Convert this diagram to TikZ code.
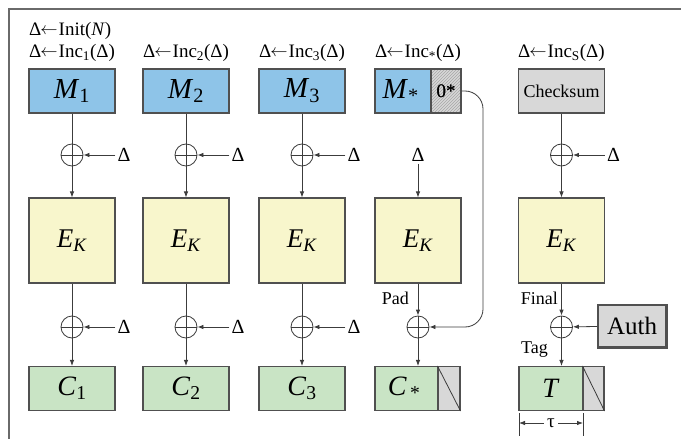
\documentclass[tikz,border=0pt]{standalone}
\usepackage{fontspec}
\setmainfont{LiberationSerif}[Extension=.ttf, UprightFont=*-Regular, ItalicFont=*-Italic, BoldFont=*-Bold, BoldItalicFont=*-BoldItalic]
\usetikzlibrary{arrows.meta,patterns}
\definecolor{mblue}{HTML}{8EC4E8}
\definecolor{eyel}{HTML}{F8F6CC}
\definecolor{cgrn}{HTML}{C9E4C5}
\definecolor{bgray}{HTML}{D8D8D8}
\definecolor{bord}{HTML}{505050}
\definecolor{lin}{HTML}{3C3C3C}
\definecolor{framec}{HTML}{6A6A6A}
\newcommand\myvar[2]{\textit{#1}\textsubscript{#2}}
\newcommand\larr{\kern-0.05em\raisebox{0.05em}{$\leftarrow$}\kern0.05em}
\tikzset{
  box/.style={draw=bord, line width=1.1pt, minimum width=86pt, minimum height=44pt, inner sep=0pt, anchor=center},
  mbox/.style={box, fill=mblue, font=\fontsize{29}{30}\selectfont},
  ebox/.style={box, fill=eyel, minimum height=85pt, font=\fontsize{27}{28}\selectfont},
  cbox/.style={box, fill=cgrn, font=\fontsize{28}{30}\selectfont},
  gbox/.style={box, fill=bgray},
  xor/.style={circle, draw=lin, line width=0.8pt, minimum size=22pt, inner sep=0pt,
    path picture={\draw[lin, line width=0.8pt] (path picture bounding box.north) -- (path picture bounding box.south)
      (path picture bounding box.west) -- (path picture bounding box.east);}},
  conn/.style={draw=lin, line width=0.8pt},
  arr/.style={conn, -{Latex[length=6pt,width=4.5pt]}},
  lab/.style={font=\fontsize{19}{20}\selectfont, inner sep=0pt},
  slab/.style={font=\fontsize{18}{20}\selectfont, inner sep=0pt},
  dlab/.style={font=\fontsize{20}{20}\selectfont, inner sep=2pt},
}
\begin{document}
\begin{tikzpicture}[x=1pt, y=-1pt]
\useasboundingbox (0,0) rectangle (681,439);
\fill[white] (0,0) rectangle (681,439);
\draw[framec, line width=1.5pt] (681,9) -- (9,9) -- (9,439);

% top labels
\node[lab, anchor=west] (init) at (29,31) {Δ\larr Init(\textit{N})};
\node[lab, anchor=west] (inc1) at (29,53) {Δ\larr Inc\textsubscript{1}(Δ)};
\node[lab, anchor=west] (inc2) at (143,53) {Δ\larr Inc\textsubscript{2}(Δ)};
\node[lab, anchor=west] (inc3) at (259,53) {Δ\larr Inc\textsubscript{3}(Δ)};
\node[lab, anchor=west] (incs) at (375,53) {Δ\larr Inc\textsubscript{*}(Δ)};
\node[lab, anchor=west] (incS) at (518,53) {Δ\larr Inc\textsubscript{S}(Δ)};

% columns 1-3
\foreach \i/\x in {1/72,2/186,3/302}{
  \node[mbox] (M\i) at (\x,91) {\myvar{M}{\i}};
  \node[xor] (xa\i) at (\x,155) {};
  \node[dlab] (da\i) at (\x+52,155) {Δ};
  \node[ebox] (E\i) at (\x,240.5) {\myvar{E}{\textit{K}}};
  \node[xor] (xb\i) at (\x,327) {};
  \node[dlab] (db\i) at (\x+52,327) {Δ};
  \node[cbox] (C\i) at (\x,388.5) {\myvar{C}{\i}};
  \draw[conn] (M\i) -- (xa\i);
  \draw[arr] (da\i) -- (xa\i);
  \draw[arr] (xa\i) -- (E\i);
  \draw[conn] (E\i) -- (xb\i);
  \draw[arr] (db\i) -- (xb\i);
  \draw[arr] (xb\i) -- (C\i);
}

% column 4
\node[mbox, minimum width=56pt] (M4) at (403,91) {\hfill\myvar{M}{*}\,};
\node[gbox, minimum width=30pt, font=\fontsize{19}{20}\selectfont,
  postaction={pattern=north east lines, pattern color=gray!70}] (Z4) at (446,91) {0*};
\node[gbox, minimum width=30pt, fill=none, font=\fontsize{19}{20}\selectfont] at (446,91) {0*};
\node[dlab] (da4) at (418,155) {Δ};
\node[ebox] (E4) at (418,240.5) {\myvar{E}{\textit{K}}};
\node[xor] (xb4) at (418,327) {};
\node[slab, anchor=east] (pad) at (409,298) {Pad};
\node[cbox, minimum width=63pt] (C4) at (406.5,388.5) {\hfill\textit{C}\textsubscript{\,*}\,};
\node[gbox, minimum width=22pt] (G4) at (449,388.5) {};
\draw[conn] (G4.north west) -- (G4.south east);
\coordinate (cr4) at (483,327);
\draw[arr] (da4) -- (E4);
\draw[arr] (E4) -- (xb4);
\draw[arr] (xb4) -- (xb4 |- C4.north);
\draw[arr, rounded corners=18pt] (Z4.east) -| (cr4) -- (xb4);

% column 5
\node[gbox, font=\fontsize{18}{20}\selectfont] (CS) at (561.5,91) {Checksum};
\node[xor] (xa5) at (561.5,155) {};
\node[dlab] (da5) at (613.5,155) {Δ};
\node[ebox] (E5) at (561.5,240.5) {\myvar{E}{\textit{K}}};
\node[xor] (xb5) at (561.5,327) {};
\node[slab, anchor=east] (fin) at (558,298) {Final};
\node[slab, anchor=east] (tag) at (548,350) {Tag};
\node[gbox, minimum width=68pt, minimum height=42pt, font=\fontsize{25}{26}\selectfont] (auth) at (632,326) {Auth};
\draw[bord, line width=2pt] (auth.north east) -- (auth.south east) -- (auth.south west);
\node[cbox, minimum width=64pt] (T5) at (551,388.5) {\textit{T}};
\node[gbox, minimum width=21pt] (G5) at (593.5,388.5) {};
\draw[conn] (G5.north west) -- (G5.south east);
\draw[conn] (CS) -- (xa5);
\draw[arr] (da5) -- (xa5);
\draw[arr] (xa5) -- (E5);
\draw[arr] (E5) -- (xb5);
\draw[arr] (auth) -- (xb5);
\draw[arr] (xb5) -- (xb5 |- T5.north);

% tau dimension
\coordinate (t1a) at (519,413); \coordinate (t1b) at (519,436);
\coordinate (t2a) at (583,413); \coordinate (t2b) at (583,436);
\draw[conn] (t1a) -- (t1b);
\draw[conn] (t2a) -- (t2b);
\node[lab, inner sep=3pt] (tau) at (551,423) {τ};
\coordinate (tl) at (519,423); \coordinate (tr) at (583,423);
\draw[arr] (tau) -- (tl);
\draw[arr] (tau) -- (tr);
\end{tikzpicture}
\end{document}
